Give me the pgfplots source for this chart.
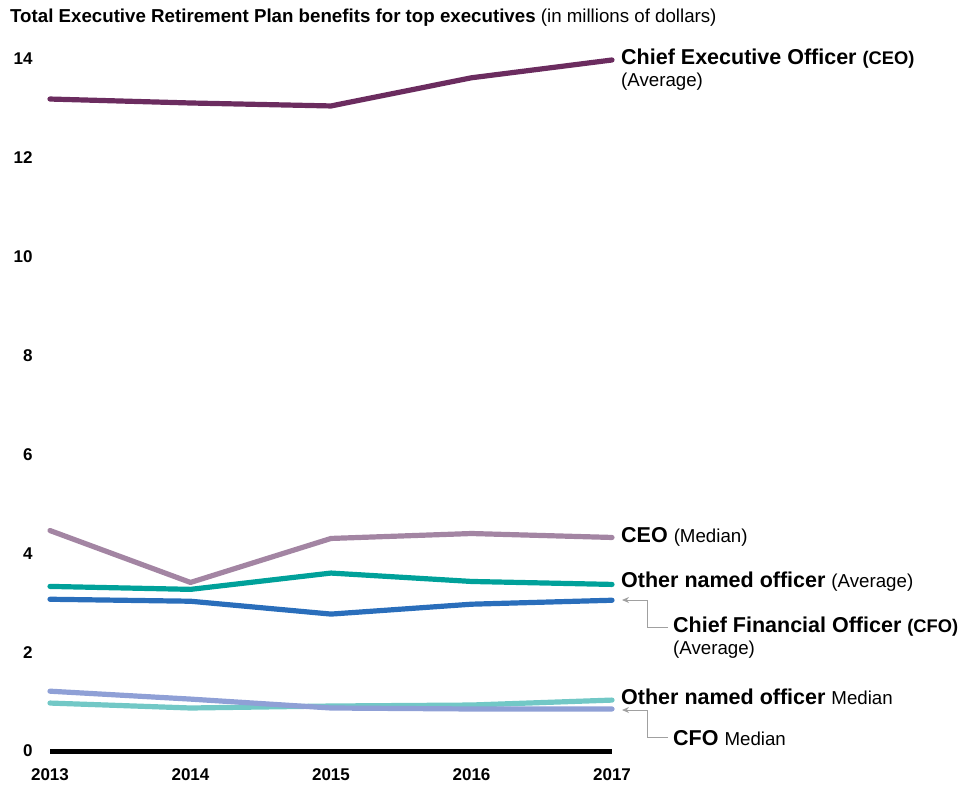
\documentclass[border=0pt]{standalone}
\usepackage{pgfplots}
\pgfplotsset{compat=1.18}
\usepackage{fontspec}
\setmainfont{Liberation Sans}
\usetikzlibrary{arrows.meta}

\definecolor{ceoavg}{HTML}{6B2C5F}
\definecolor{ceomed}{HTML}{A385A3}
\definecolor{othavg}{HTML}{00A19A}
\definecolor{cfoavg}{HTML}{2A6EBB}
\definecolor{cfomed}{HTML}{8FA0D6}
\definecolor{othmed}{HTML}{72C8C6}
\definecolor{arrowgray}{HTML}{A0A0A0}

\newcommand{\fs}[1]{\fontsize{#1}{#1}\selectfont}

\begin{document}
\begin{tikzpicture}[x=1pt,y=1pt]
\path[use as bounding box] (0,0) rectangle (974,788);

\begin{axis}[
    at={(50pt,37pt)}, anchor=south west,
    scale only axis, width=562pt, height=692pt,
    xmin=2013, xmax=2017, ymin=0, ymax=14,
    clip=false,
    axis line style={draw=none},
    major tick length=0pt,
    xtick={2013,2014,2015,2016,2017},
    xticklabels={2013,2014,2015,2016,2017},
    ytick={0,2,4,6,8,10,12,14},
    /pgf/number format/assume math mode=true,
    ticklabel style={font=\bfseries\fs{17}},
    yticklabel style={anchor=east, xshift=-14pt},
    xticklabel style={anchor=north, yshift=-14pt},
    every axis plot/.append style={line width=5.2pt, line cap=round, line join=round, no markers},
]
    % baseline
    \addplot[black, line cap=butt, line width=5pt] coordinates {(2013,0) (2017,0)};

    % other named officer median
    \addplot[othmed] coordinates {
        (2013,0.97) (2014,0.87) (2015,0.91) (2016,0.93) (2017,1.03)
    };
    % CFO median
    \addplot[cfomed] coordinates {
        (2013,1.21) (2014,1.05) (2015,0.87) (2016,0.85) (2017,0.85)
    };
    % CFO average
    \addplot[cfoavg] coordinates {
        (2013,3.07) (2014,3.03) (2015,2.77) (2016,2.97) (2017,3.05)
    };
    % other named officer average
    \addplot[othavg] coordinates {
        (2013,3.33) (2014,3.27) (2015,3.60) (2016,3.43) (2017,3.37)
    };
    % CEO median
    \addplot[ceomed] coordinates {
        (2013,4.46) (2014,3.41) (2015,4.30) (2016,4.40) (2017,4.32)
    };
    % CEO average
    \addplot[ceoavg] coordinates {
        (2013,13.19) (2014,13.11) (2015,13.05) (2016,13.62) (2017,13.98)
    };
\end{axis}

% title
\node[anchor=west, inner sep=0pt] at (10,770)
    {\fs{18.7}\textbf{Total Executive Retirement Plan benefits for top executives} (in millions of dollars)};

% series labels
\node[anchor=west, inner sep=0pt] at (621,729)
    {\fs{21.5}\textbf{Chief Executive Officer} {\fs{18.3}\textbf{(CEO)}}};
\node[anchor=west, inner sep=0pt] at (621,706) {\fs{18.7}(Average)};

\node[anchor=west, inner sep=0pt] at (621,251)
    {\fs{21.5}\textbf{CEO} {\fs{18.7}(Median)}};

\node[anchor=west, inner sep=0pt] at (621,206)
    {\fs{21.5}\textbf{Other named officer} {\fs{18.7}(Average)}};

\draw[arrowgray, line width=1pt, -{Stealth[length=7pt,width=6pt]}]
    (668,161) -- (647,161) -- (647,188) -- (622,188);
\node[anchor=west, inner sep=0pt] at (673,161)
    {\fs{21.5}\textbf{Chief Financial Officer} {\fs{18.3}\textbf{(CFO)}}};
\node[anchor=west, inner sep=0pt] at (673,138) {\fs{18.7}(Average)};

\node[anchor=west, inner sep=0pt] at (621,91)
    {\fs{21.5}\textbf{Other named officer} {\fs{18.7}Median}};

\draw[arrowgray, line width=1pt, -{Stealth[length=7pt,width=6pt]}]
    (668,51) -- (647,51) -- (647,78) -- (622,78);
\node[anchor=west, inner sep=0pt] at (673,50)
    {\fs{21.5}\textbf{CFO} {\fs{18.7}Median}};

\end{tikzpicture}
\end{document}
